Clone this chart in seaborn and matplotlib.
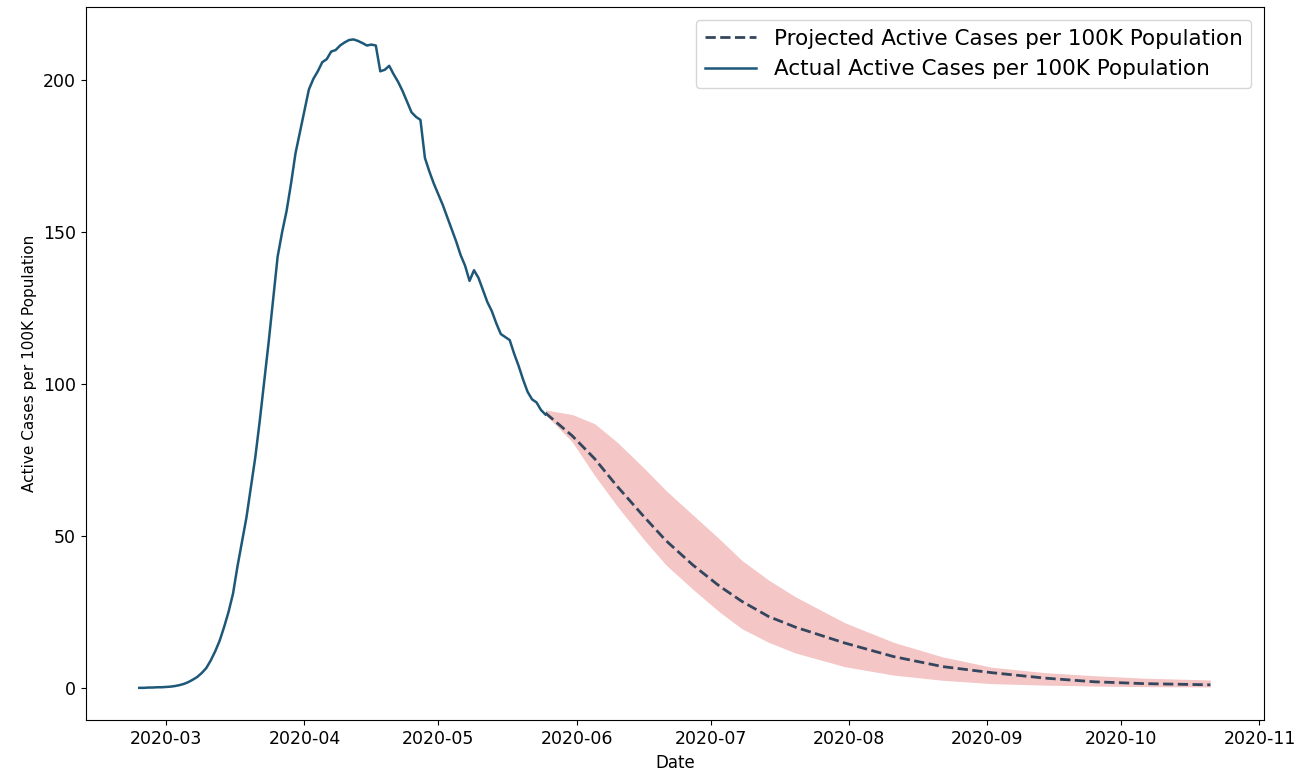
import pandas as pd
import seaborn as sns
import matplotlib.pyplot as plt

# actual active cases per 100K, daily from 2020-02-24 to 2020-05-25
actual_start = "2020-02-24"
actual_values = [
    0.0, 0.0, 0.1, 0.1, 0.2, 0.2, 0.3, 0.4, 0.6, 0.9,
    1.3, 1.9, 2.7, 3.6, 4.9, 6.5, 9.0, 12.0, 15.5, 20.0,
    25.0, 31.0, 40.0, 48.0, 56.0, 66.0, 76.0, 88.0, 101.0, 114.0,
    128.0, 142.0, 150.0, 157.0, 166.0, 176.0, 183.0, 190.0, 197.0, 200.5,
    203.0, 206.0, 207.0, 209.5, 210.0, 211.5, 212.5, 213.3, 213.5, 213.0,
    212.3, 211.5, 211.8, 211.5, 203.0, 203.5, 204.8, 202.0, 199.5, 196.5,
    193.0, 189.5, 188.0, 187.0, 174.5, 170.0, 166.0, 162.5, 159.0, 155.0,
    151.0, 147.0, 142.5, 139.0, 134.0, 137.5, 135.0, 131.0, 127.0, 124.0,
    120.0, 116.5, 115.5, 114.5, 110.0, 106.0, 101.5, 97.5, 95.0, 94.0,
    91.5, 90.0,
]

# projection (mean and band)
proj_dates = [
    "2020-05-25", "2020-05-31", "2020-06-05", "2020-06-10", "2020-06-16",
    "2020-06-21", "2020-06-27", "2020-07-03", "2020-07-08", "2020-07-14",
    "2020-07-20", "2020-07-31", "2020-08-11", "2020-08-22", "2020-09-02",
    "2020-09-14", "2020-09-25", "2020-10-06", "2020-10-21",
]
proj_mean = [90.5, 83.0, 75.5, 66.5, 56.5, 48.5, 40.5, 33.5, 28.5, 23.5,
             20.0, 14.8, 10.3, 7.0, 5.0, 3.2, 2.0, 1.4, 1.0]
proj_upper = [91.5, 90.0, 87.0, 81.0, 72.5, 65.0, 57.0, 49.0, 42.0, 35.5,
              30.0, 21.5, 15.0, 10.2, 6.8, 5.0, 4.0, 3.2, 2.6]
proj_lower = [90.0, 81.0, 70.0, 60.0, 49.0, 40.5, 32.5, 25.0, 19.5, 15.0,
              11.5, 7.0, 4.2, 2.5, 1.4, 0.9, 0.6, 0.4, 0.3]

actual = pd.DataFrame({
    "Date": pd.date_range(actual_start, periods=len(actual_values), freq="D"),
    "value": actual_values,
})
proj = pd.DataFrame({
    "Date": pd.to_datetime(proj_dates),
    "mean": proj_mean,
    "upper": proj_upper,
    "lower": proj_lower,
})

plt.rcParams["font.family"] = ["DejaVu Sans"]
fig, ax = plt.subplots(figsize=(12.99, 7.77), dpi=100)

ax.fill_between(proj["Date"], proj["lower"], proj["upper"],
                color="#f4c6c5", linewidth=0)
sns.lineplot(data=proj, x="Date", y="mean", ax=ax, color="#34465e",
             linestyle="--", linewidth=2.0,
             label="Projected Active Cases per 100K Population")
sns.lineplot(data=actual, x="Date", y="value", ax=ax, color="#1d5878",
             linewidth=1.8, label="Actual Active Cases per 100K Population")

ax.set_xlabel("Date", fontsize=12)
ax.set_ylabel("Active Cases per 100K Population", fontsize=11)
ax.tick_params(labelsize=12.5)
ax.legend(loc="upper right", fontsize=15.5, handlelength=2.4,
          borderaxespad=0.6)

plt.subplots_adjust(left=0.066, right=0.973, top=0.991, bottom=0.073)
plt.savefig("out.png")
plt.close()
